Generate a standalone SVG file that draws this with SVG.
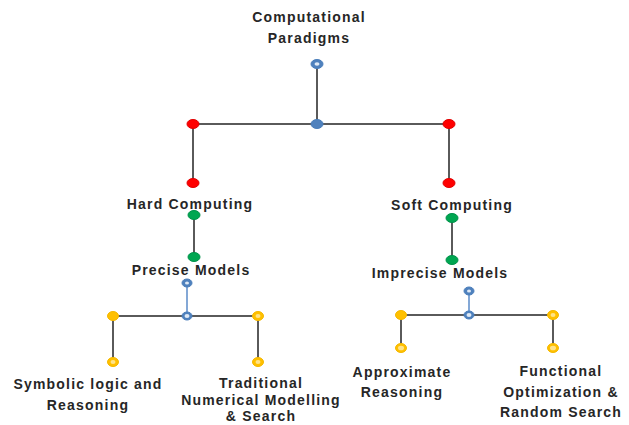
<svg xmlns="http://www.w3.org/2000/svg" width="629" height="425" viewBox="0 0 629 425">
<style>
.t{font-family:"Liberation Sans",Arial,sans-serif;font-weight:bold;font-size:14px;fill:#262626;text-anchor:middle;letter-spacing:1.2px}
.ln{stroke:#5a5a5a;stroke-width:2;fill:none}
.lb{stroke:#5b8bc9;stroke-width:1.5;fill:none}
.red{fill:#ff0000;stroke:#e00000;stroke-width:1}
.blue{fill:#4f81bd;stroke:#4a7ebb;stroke-width:1}
.green{fill:#00a651;stroke:#00914a;stroke-width:1}
.yel{fill:#ffc000;stroke:#f5b800;stroke-width:1}
.in{fill:#dfe9f5}
.iy{fill:#ffe38a}
</style>
<rect width="629" height="425" fill="#ffffff"/>
<g id="connectors">
<line class="ln" x1="317" y1="64" x2="317" y2="124"/>
<line class="ln" x1="193" y1="124" x2="449" y2="124"/>
<line class="ln" x1="193" y1="124" x2="193" y2="183"/>
<line class="ln" x1="449" y1="124" x2="449" y2="183"/>
<line class="ln" x1="194" y1="215" x2="194" y2="257"/>
<line class="ln" x1="452" y1="218" x2="452" y2="260"/>
<line class="lb" x1="187" y1="283" x2="187" y2="316"/>
<line class="ln" x1="113" y1="316" x2="258" y2="316"/>
<line class="ln" x1="113" y1="316" x2="113" y2="362"/>
<line class="ln" x1="258" y1="316" x2="258" y2="362"/>
<line class="lb" x1="469" y1="291" x2="469" y2="315"/>
<line class="ln" x1="401" y1="315" x2="553" y2="315"/>
<line class="ln" x1="401" y1="315" x2="401" y2="348"/>
<line class="ln" x1="553" y1="315" x2="553" y2="348"/>
</g>
<g id="computational-paradigms">
<text class="t" x="309" y="22">Computational</text>
<text class="t" x="309" y="43">Paradigms</text>
<ellipse class="blue" cx="317" cy="64" rx="6" ry="4.5"/>
<ellipse class="in" cx="317" cy="64" rx="2.5" ry="1.8"/>
</g>
<g id="junction-top">
<ellipse class="blue" cx="317" cy="124" rx="6" ry="4.5"/>
<ellipse class="red" cx="193" cy="124" rx="6" ry="4.5"/>
<ellipse class="red" cx="449" cy="124" rx="6" ry="4.5"/>
</g>
<g id="hard-computing">
<ellipse class="red" cx="193" cy="183" rx="6" ry="4.5"/>
<text class="t" x="190" y="209">Hard Computing</text>
<ellipse class="green" cx="194" cy="215" rx="6" ry="4.5"/>
</g>
<g id="soft-computing">
<ellipse class="red" cx="449" cy="183" rx="6" ry="4.5"/>
<text class="t" x="452" y="210">Soft Computing</text>
<ellipse class="green" cx="452" cy="218" rx="6" ry="4.5"/>
</g>
<g id="precise-models">
<ellipse class="green" cx="194" cy="257" rx="6" ry="4.5"/>
<text class="t" x="191" y="275">Precise Models</text>
<ellipse class="blue" cx="187" cy="283" rx="5" ry="4"/>
<ellipse class="in" cx="187" cy="283" rx="2" ry="1.5"/>
<ellipse class="blue" cx="187" cy="316" rx="5" ry="4"/>
<ellipse class="in" cx="187" cy="316" rx="2.5" ry="2"/>
<ellipse class="yel" cx="113" cy="316" rx="5.5" ry="4.5"/>
<ellipse class="yel" cx="258" cy="316" rx="5.5" ry="4.5"/>
<ellipse class="iy" cx="258" cy="316" rx="2.5" ry="2"/>
</g>
<g id="imprecise-models">
<ellipse class="green" cx="452" cy="260" rx="6" ry="4.5"/>
<text class="t" x="440" y="278">Imprecise Models</text>
<ellipse class="blue" cx="469" cy="291" rx="5" ry="4"/>
<ellipse class="in" cx="469" cy="291" rx="2" ry="1.5"/>
<ellipse class="blue" cx="469" cy="315" rx="5" ry="4"/>
<ellipse class="in" cx="469" cy="315" rx="2.5" ry="2"/>
<ellipse class="yel" cx="401" cy="315" rx="5.5" ry="4.5"/>
<ellipse class="yel" cx="553" cy="315" rx="5.5" ry="4.5"/>
<ellipse class="iy" cx="553" cy="315" rx="2.5" ry="2"/>
</g>
<g id="symbolic-logic">
<ellipse class="yel" cx="113" cy="362" rx="5.5" ry="4.5"/>
<ellipse class="iy" cx="113" cy="362" rx="2.5" ry="2"/>
<text class="t" x="88" y="389">Symbolic logic and</text>
<text class="t" x="88" y="410">Reasoning</text>
</g>
<g id="traditional-numerical">
<ellipse class="yel" cx="258" cy="362" rx="5.5" ry="4.5"/>
<ellipse class="iy" cx="258" cy="362" rx="2.5" ry="2"/>
<text class="t" x="261" y="388">Traditional</text>
<text class="t" x="261" y="405">Numerical Modelling</text>
<text class="t" x="261" y="421">&amp; Search</text>
</g>
<g id="approximate-reasoning">
<ellipse class="yel" cx="401" cy="348" rx="5.5" ry="4.5"/>
<ellipse class="iy" cx="401" cy="348" rx="3" ry="2.3"/>
<text class="t" x="402" y="377">Approximate</text>
<text class="t" x="402" y="397">Reasoning</text>
</g>
<g id="functional-optimization">
<ellipse class="yel" cx="553" cy="348" rx="5.5" ry="4.5"/>
<ellipse class="iy" cx="553" cy="348" rx="3" ry="2.3"/>
<text class="t" x="561" y="376">Functional</text>
<text class="t" x="561" y="397">Optimization &amp;</text>
<text class="t" x="561" y="417">Random Search</text>
</g>
</svg>
